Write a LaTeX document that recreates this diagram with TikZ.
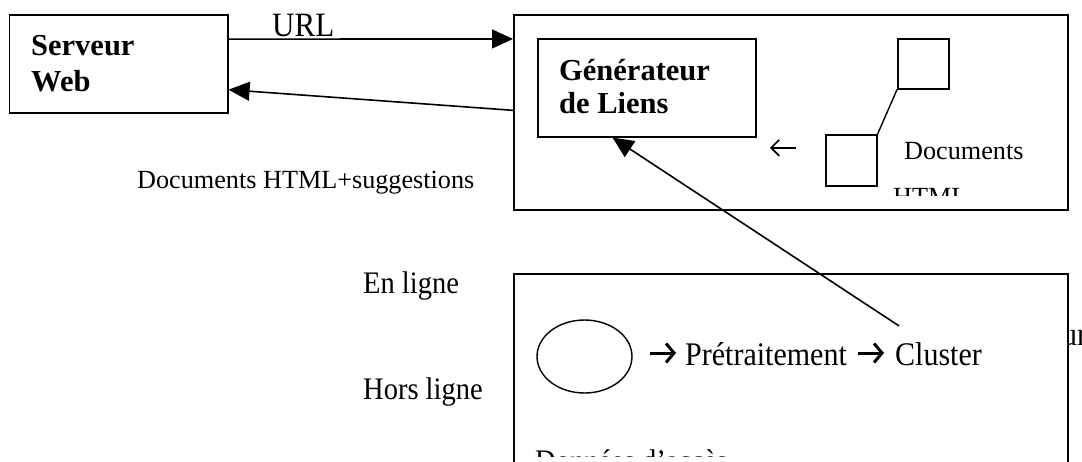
\documentclass[tikz,border=0pt]{standalone}
\usepackage{fontspec}
\setmainfont{Liberation Serif}
\usetikzlibrary{arrows.meta,calc,shapes.geometric}
% regular text is set slightly taller than its natural shape
\newcommand{\tallt}[1]{\scalebox{1}[1.1]{#1}}

\begin{document}
\begin{tikzpicture}[x=1pt,y=-1pt,
  box/.style={draw, line width=1.6pt, fill=white, inner sep=0pt, anchor=north west},
  sq/.style={box, minimum width=51pt, minimum height=50pt},
  arr/.style={line width=1.6pt, -{Triangle[length=21pt,width=19pt]}},
  barr/.style={line width=3pt, -{Straight Barb[length=8pt,width=19pt,line width=3pt]}},
  thinarr/.style={line width=1.7pt, -{Straight Barb[length=8pt,width=16pt,line width=1.7pt]}},
  txt/.style={inner sep=0pt, anchor=base west},
  bold/.style={txt, font=\bfseries\fontsize{30.5}{36}\selectfont},
  big/.style={txt, font=\fontsize{28.5}{34}\selectfont},
  mid/.style={txt, font=\fontsize{30}{36}\selectfont},
  small/.style={txt, font=\fontsize{26.2}{31}\selectfont}]

\useasboundingbox (0,0) rectangle (1082,461);
\clip (0,0) rectangle (1082,461);

% text partly hidden behind the offline box
\node[mid] (urtail) at (1062,345) {\tallt{ur}};

% boxes
\node[box, minimum width=218.5pt, minimum height=98pt] (srv) at (8.5,14) {};
\node[box, minimum width=554pt, minimum height=195pt] (online) at (513,14) {};
\node[box, minimum width=218pt, minimum height=98pt] (gen) at (537,38) {};
\node[box, minimum width=554pt, minimum height=230pt] (offline) at (513,273) {};

% server and link generator labels
\node[bold] (srv1) at (31,55.5) {Serveur};
\node[bold] (srv2) at (31,91) {Web};
\node[bold] (gen1) at (559,80) {Générateur};
\node[bold] (gen2) at (559,113) {de Liens};

% HTML documents store
\node[sq] (doc1) at (897,38) {};
\node[sq, minimum height=51pt] (doc2) at (825,134) {};
\draw[line width=1.4pt] (doc2.north east) -- (doc1.south west);
\draw[thinarr] ($(doc2.west)+(-29,-12.5)$) -- ($(doc2.west)+(-55,-12.5)$);
\node[small] (docs) at (904,159) {Documents};
\begin{scope}
  \clip (880,150) rectangle (1000,195);
  \node[small] (html) at (893,205.5) {HTML};
\end{scope}

% offline pipeline
\node[draw, ellipse, line width=1.4pt, minimum width=95pt, minimum height=73pt, inner sep=0pt]
  (logs) at (584.5,356.5) {};
\node[mid] (pre) at (685,365) {\tallt{Prétraitement}};
\node[mid] (cluster) at (895,365) {\tallt{Cluster}};
\draw[barr] ($(pre.base west)+(-35,-12)$) -- ($(pre.base west)+(-9,-12)$);
\draw[barr] ($(cluster.base west)+(-37,-12)$) -- ($(cluster.base west)+(-11,-12)$);
\begin{scope}
  \clip (520,280) rectangle (1060,456);
  \node[big] (acces) at (535,471) {\tallt{Données d’accès}};
\end{scope}

% side labels
\node[txt, font=\fontsize{31}{36}\selectfont] (url) at (272,36.5) {\tallt{URL}};
\node[small] (sugg) at (137,188.5) {Documents HTML+suggestions};
\node[big] (enligne) at (363,293) {\tallt{En ligne}};
\node[big] (horsligne) at (363,399) {\tallt{Hors ligne}};

% connectors
\draw[arr] ($(srv.north east)!0.252!(srv.south east)$) -- ($(online.north west)!0.127!(online.south west)$);
\draw[arr] ($(online.north west)!0.49!(online.south west)$) -- ($(srv.north east)!0.76!(srv.south east)$);
\coordinate (clutop) at ($(cluster.north west)+(4,-16)$);
\draw[arr] (clutop) -- ($(gen.south west)!0.344!(gen.south east)$);
\end{tikzpicture}
\end{document}
